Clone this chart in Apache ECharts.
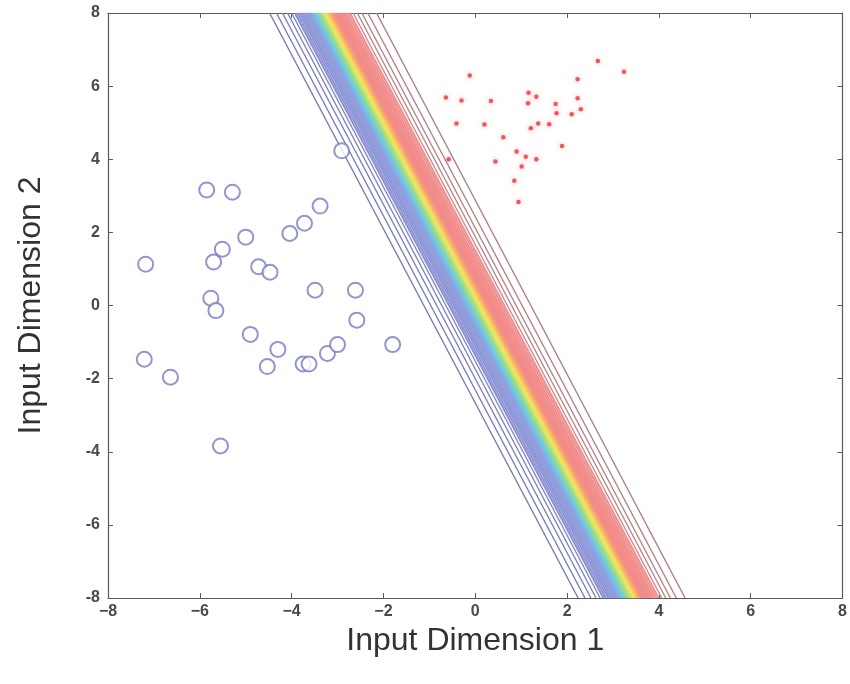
<!DOCTYPE html>
<html>
<head>
<meta charset="utf-8">
<title>Input Dimension</title>
<script src="https://cdn.jsdelivr.net/npm/echarts@6/dist/echarts.min.js"></script>
<style>
  html, body { margin: 0; padding: 0; background: #fff; }
  #chart { width: 850px; height: 684px; }
</style>
</head>
<body>
<div id="chart"></div>
<script>
// class 1: open blue circles
const blueX = [-7.18, -5.85, -5.29, -5.00, -5.51, -5.70, -4.72, -4.47, -4.04, -3.72, -3.38, -2.91, -3.49, -2.61,
  -5.76, -5.65, -2.58, -4.90, -4.30, -4.53, -3.75, -3.62, -3.22, -3.00, -1.80, -7.21, -6.64, -5.55];
const blueY = [1.13, 3.16, 3.10, 1.87, 1.54, 1.19, 1.06, 0.91, 1.97, 2.25, 2.72, 4.23, 0.42, 0.42,
  0.20, -0.14, -0.40, -0.79, -1.20, -1.67, -1.60, -1.60, -1.31, -1.07, -1.07, -1.47, -1.96, -3.84];

// class 2: small red dots
const redX = [-0.12, -0.64, -0.30, 0.34, 1.16, 1.33, 1.15, 1.75, 2.23, 2.67, 3.24, 2.23, 2.30, 2.10, 1.77,
  -0.41, 0.20, 1.21, 1.37, 1.61, 0.61, 1.89, 0.90, 1.10, 1.33, 0.44, 1.01, 0.85, 0.94, -0.58];
const redY = [6.29, 5.69, 5.61, 5.59, 5.82, 5.71, 5.53, 5.51, 6.19, 6.69, 6.39, 5.67, 5.37, 5.23, 5.26,
  4.98, 4.95, 4.85, 4.98, 4.96, 4.60, 4.36, 4.21, 4.07, 4.00, 3.94, 3.80, 3.41, 2.83, 4.00];

// decision contours: x where each line crosses y = 0, low to high probability
const contourOffsets = [-1.12, -0.97, -0.84, -0.73, -0.64,
  -0.57, -0.52, -0.47, -0.43, -0.39, -0.35, -0.31, -0.28, -0.25, -0.22,
  -0.19, -0.16, -0.13, -0.10, -0.07,
  -0.04, -0.01, 0.02, 0.05,
  0.08, 0.11, 0.14,
  0.17, 0.20, 0.23,
  0.26, 0.29, 0.32, 0.35, 0.38, 0.41, 0.45, 0.49, 0.53, 0.58, 0.63,
  0.70, 0.79, 0.89, 1.02, 1.21];
const contourSlope = -0.42; // change in x per unit of y

const axisMin = -8, axisMax = 8, axisStep = 2;

// faded jet-like colour ramp
const ramp = [
  [0.00, [120, 122, 176]],
  [0.09, [130, 134, 196]],
  [0.12, [140, 146, 212]],
  [0.30, [146, 160, 222]],
  [0.37, [108, 196, 236]],
  [0.46, [150, 222, 140]],
  [0.55, [245, 232, 92]],
  [0.62, [248, 178, 104]],
  [0.68, [243, 140, 136]],
  [0.89, [240, 140, 140]],
  [0.92, [190, 135, 140]],
  [1.00, [168, 128, 132]]
];
function rampColor(t) {
  for (let i = 1; i < ramp.length; i++) {
    if (t <= ramp[i][0]) {
      const a = ramp[i - 1], b = ramp[i];
      const f = (t - a[0]) / (b[0] - a[0]);
      const c = a[1].map((v, k) => Math.round(v + (b[1][k] - v) * f));
      return 'rgb(' + c.join(',') + ')';
    }
  }
  return 'rgb(' + ramp[ramp.length - 1][1].join(',') + ')';
}

const frameColor = '#5a5a5a';
const labelStyle = { color: '#4a4a4a', fontSize: 16, fontWeight: 'bold', fontFamily: 'Liberation Sans, Arial, sans-serif' };
const nameFont = 'Liberation Sans, Arial, sans-serif';

function axisBase(pos) {
  return {
    type: 'value', min: axisMin, max: axisMax, interval: axisStep, position: pos,
    axisLine: { show: true, onZero: false, lineStyle: { color: frameColor, width: 1.2 } },
    axisTick: { show: true, inside: true, length: 5, lineStyle: { color: frameColor } },
    splitLine: { show: false }
  };
}

const n = contourOffsets.length;
const contourSeries = contourOffsets.map((c, i) => {
  const t = i / (n - 1);
  const outer = i < 5 || i >= n - 5;
  return {
    type: 'line',
    silent: true,
    symbol: 'none',
    animation: false,
    z: 1,
    lineStyle: { width: outer ? 1.4 : 1.9, color: rampColor(t) },
    data: [[c + contourSlope * axisMax, axisMax], [c + contourSlope * axisMin, axisMin]]
  };
});

const chart = echarts.init(document.getElementById('chart'));
chart.setOption({
  animation: false,
  backgroundColor: '#fff',
  grid: { left: 108, right: 7, top: 13, bottom: 86 },
  xAxis: [
    Object.assign(axisBase('bottom'), {
      name: 'Input Dimension 1', nameLocation: 'middle', nameGap: 15,
      nameTextStyle: { color: '#333', fontSize: 32, fontFamily: nameFont },
      axisLabel: Object.assign({ margin: 6, formatter: v => (v < 0 ? '\u2212' + (-v) : '' + v) }, labelStyle)
    }),
    Object.assign(axisBase('top'), { axisLabel: { show: false } })
  ],
  yAxis: [
    Object.assign(axisBase('left'), {
      name: 'Input Dimension 2', nameLocation: 'middle', nameGap: 61,
      nameTextStyle: { color: '#333', fontSize: 32, fontFamily: nameFont },
      axisLabel: Object.assign({ margin: 8 }, labelStyle)
    }),
    Object.assign(axisBase('right'), { axisLabel: { show: false } })
  ],
  series: contourSeries.concat([
    {
      type: 'scatter',
      z: 3,
      symbol: 'emptyCircle',
      symbolSize: 15,
      itemStyle: { color: '#777cbd', borderWidth: 1.4 },
      data: blueX.map((x, i) => [x, blueY[i]])
    },
    {
      type: 'scatter',
      z: 3,
      symbol: 'circle',
      symbolSize: 4.5,
      itemStyle: { color: '#e8343a', shadowBlur: 5, shadowColor: 'rgba(240,90,100,0.7)' },
      data: redX.map((x, i) => [x, redY[i]])
    }
  ])
});
</script>
</body>
</html>
